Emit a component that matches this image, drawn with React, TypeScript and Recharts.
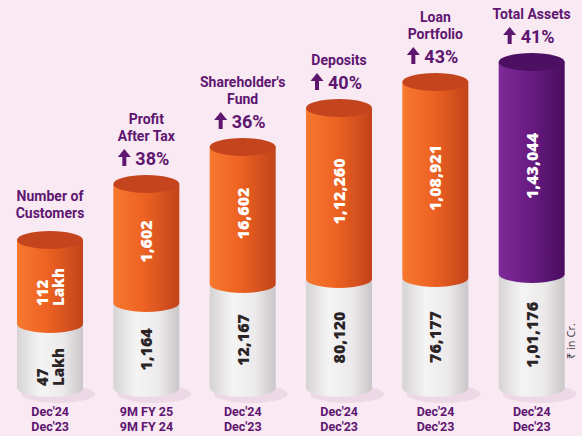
import { Bar, BarChart, LabelList, XAxis, YAxis } from "recharts";

const categories = [
  "Number of Customers",
  "Profit After Tax",
  "Shareholder's Fund",
  "Deposits",
  "Loan Portfolio",
  "Total Assets",
];
const titleLines = [
  ["Number of", "Customers"],
  ["Profit", "After Tax"],
  ["Shareholder's", "Fund"],
  ["Deposits"],
  ["Loan", "Portfolio"],
  ["Total Assets"],
];
const growth = ["", "38%", "36%", "40%", "43%", "41%"];
const currentValues = [112, 1602, 16602, 112260, 108921, 143044];
const previousValues = [47, 1164, 12167, 80120, 76177, 101176];
const units = ["Lakh", "", "", "", "", ""];
const currentPeriods = ["Dec'24", "9M FY 25", "Dec'24", "Dec'24", "Dec'24", "Dec'24"];
const previousPeriods = ["Dec'23", "9M FY 24", "Dec'23", "Dec'23", "Dec'23", "Dec'23"];
// segment heights as drawn in the infographic (it is not to scale)
const previousLevels = [64, 85, 104, 109, 110, 114];
const currentLevels = [84, 119, 137, 171, 196, 212];

const data = categories.map((name, i) => ({
  name,
  previous: previousLevels[i],
  current: currentLevels[i],
}));

const PURPLE_TEXT = "#5e1670";
const FONT = "'Open Sans', sans-serif";
const HEAD_FONT = "Roboto, sans-serif";

// indian digit grouping: 1,43,044
function formatIN(n: number) {
  const s = String(n);
  if (s.length <= 3) return s;
  const rest = s.slice(0, -3).replace(/\B(?=(\d{2})+(?!\d))/g, ",");
  return rest + "," + s.slice(-3);
}

function Cylinder(props: any) {
  const { x, y, width, height, index, top } = props;
  if (!width || height == null) return null;
  const rx = width / 2;
  const ry = 9;
  const cx = x + rx;
  const id = `cyl-${top ? "t" : "b"}-${index}`;
  const purple = index === 5;
  const body = `M${x},${y} L${x},${y + height} A${rx},${ry} 0 0 0 ${x + width},${y + height} L${x + width},${y} Z`;

  let stops: [string, string][];
  if (!top) {
    stops = [["0%", "#d6d3d5"], ["35%", "#f5f4f4"], ["70%", "#ebe9ea"], ["100%", "#c9c6c8"]];
  } else if (purple) {
    stops = [["0%", "#7d2a98"], ["45%", "#6a1c84"], ["100%", "#4a0c5e"]];
  } else {
    stops = [["0%", "#f7782f"], ["45%", "#ee6322"], ["100%", "#c2431b"]];
  }

  return (
    <g>
      <defs>
        <linearGradient id={id} x1="0" y1="0" x2="1" y2="0">
          {stops.map(([o, c]) => (
            <stop key={o} offset={o} stopColor={c} />
          ))}
        </linearGradient>
      </defs>
      {!top && (
        <ellipse cx={cx + 8} cy={y + height + 6} rx={rx + 4} ry={ry} fill="#e3cfdc" opacity={0.6} />
      )}
      <path d={body} fill={`url(#${id})`} />
      {top && (
        <ellipse cx={cx} cy={y} rx={rx} ry={ry} fill={purple ? "#4c0f62" : "#c4441d"} />
      )}
    </g>
  );
}

function ValueLabel(props: any) {
  const { x, y, width, height, index, top } = props;
  const value = top ? currentValues[index] : previousValues[index];
  const cx = x + width / 2;
  const cy = y + height / 2 + (top ? -2 : 4);
  const unit = units[index];
  const fill = top ? "#ffffff" : "#2b2426";
  if (unit) {
    const base = cy + 26;
    return (
      <text
        transform={`rotate(-90 ${cx} ${base})`}
        x={cx}
        y={base}
        fill={fill}
        fontFamily={FONT}
        fontWeight={800}
        fontSize={15}
      >
        <tspan x={cx} dy={-2}>{formatIN(value)}</tspan>
        <tspan x={cx} dy={16}>{unit}</tspan>
      </text>
    );
  }
  return (
    <text
      transform={`rotate(-90 ${cx} ${cy})`}
      x={cx}
      y={cy}
      dy={6}
      textAnchor="middle"
      fill={fill}
      fontFamily={FONT}
      fontWeight={800}
      fontSize={16}
    >
      {formatIN(value)}
    </text>
  );
}

function TitleLabel(props: any) {
  const { x, y, width, index } = props;
  const cx = x + width / 2;
  const g = growth[index];
  const lines = titleLines[index];
  const gy = y - 26;
  const lastCenter = g ? gy - 22 : y - 27;
  const ax = cx - 22;
  return (
    <g fontFamily={HEAD_FONT} fontWeight={700} fill={PURPLE_TEXT}>
      {lines.map((t, i) => (
        <text
          key={t}
          x={cx}
          y={lastCenter - (lines.length - 1 - i) * 17 + 5}
          fontSize={14}
          textAnchor="middle"
        >
          {t}
        </text>
      ))}
      {g && (
        <g>
          <path
            d={`M${ax},${gy - 9} L${ax + 6.5},${gy - 1} L${ax + 2},${gy - 1} L${ax + 2},${gy + 8} L${ax - 2},${gy + 8} L${ax - 2},${gy - 1} L${ax - 6.5},${gy - 1} Z`}
            fill={PURPLE_TEXT}
          />
          <text x={ax + 11} y={gy + 6.5} fontSize={18} textAnchor="start">
            {g}
          </text>
        </g>
      )}
    </g>
  );
}

function PeriodTick(props: any) {
  const { x, y, payload } = props;
  const i = payload.index;
  return (
    <g fontFamily={HEAD_FONT} fontWeight={700} fill={PURPLE_TEXT} fontSize={12.5} textAnchor="middle">
      <text x={x} y={y + 28}>{currentPeriods[i]}</text>
      <text x={x} y={y + 43}>{previousPeriods[i]}</text>
    </g>
  );
}

export default function App() {
  return (
    <div
      style={{
        position: "absolute",
        left: 0,
        top: 0,
        width: 582,
        height: 436,
        background: "#f9e9f3",
      }}
    >
      <BarChart
        width={582}
        height={436}
        data={data}
        margin={{ top: 0, right: 2, bottom: 8, left: 2 }}
        barSize={66}
      >
        <XAxis
          dataKey="name"
          height={40}
          axisLine={false}
          tickLine={false}
          tickSize={0}
          tickMargin={0}
          interval={0}
          tick={<PeriodTick />}
        />
        <YAxis hide domain={[0, 388]} />
        <Bar
          dataKey="previous"
          stackId="a"
          isAnimationActive={false}
          shape={(p: any) => <Cylinder {...p} top={false} />}
        >
          <LabelList dataKey="previous" content={(p: any) => <ValueLabel {...p} top={false} />} />
        </Bar>
        <Bar
          dataKey="current"
          stackId="a"
          isAnimationActive={false}
          shape={(p: any) => <Cylinder {...p} top />}
        >
          <LabelList dataKey="current" content={(p: any) => <ValueLabel {...p} top />} />
          <LabelList dataKey="current" content={(p: any) => <TitleLabel {...p} />} />
        </Bar>
      </BarChart>
      <svg
        width={22}
        height={70}
        style={{ position: "absolute", left: 558, top: 306 }}
      >
        <text
          transform="rotate(-90 17 35)"
          x={17}
          y={35}
          textAnchor="middle"
          fontFamily={FONT}
          fontSize={11}
          fill="#3a3a3a"
        >
          ₹ in Cr.
        </text>
      </svg>
    </div>
  );
}
